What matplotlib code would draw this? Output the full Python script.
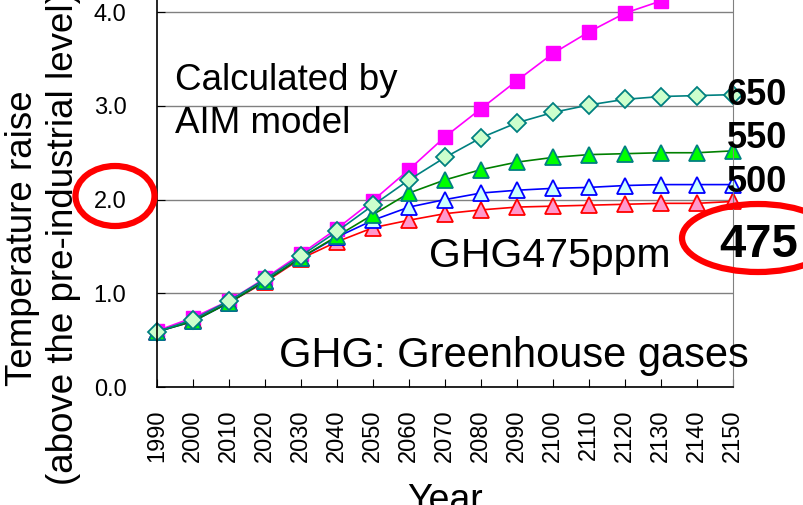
import matplotlib.pyplot as plt
from matplotlib.patches import Ellipse

plt.rcParams["font.family"] = ["Liberation Sans", "DejaVu Sans"]

years = [1990, 2000, 2010, 2020, 2030, 2040, 2050, 2060, 2070, 2080,
         2090, 2100, 2110, 2120, 2130, 2140, 2150]

# temperature rise by GHG stabilisation level
base = [0.60, 0.74, 0.92, 1.16, 1.42, 1.69, 1.99, 2.32, 2.67, 2.97,
        3.27, 3.56, 3.79, 3.99, 4.12, 4.25, 4.35]
ghg650 = [0.59, 0.72, 0.92, 1.15, 1.40, 1.66, 1.94, 2.21, 2.45, 2.66,
          2.82, 2.93, 3.01, 3.07, 3.10, 3.11, 3.12]
ghg550 = [0.59, 0.70, 0.90, 1.13, 1.38, 1.61, 1.84, 2.07, 2.21, 2.32,
          2.40, 2.45, 2.48, 2.49, 2.50, 2.50, 2.52]
ghg500 = [0.59, 0.70, 0.90, 1.13, 1.38, 1.60, 1.78, 1.92, 2.00, 2.07,
          2.10, 2.12, 2.13, 2.15, 2.16, 2.16, 2.16]
ghg475 = [0.59, 0.71, 0.90, 1.12, 1.37, 1.55, 1.70, 1.78, 1.85, 1.89,
          1.92, 1.93, 1.94, 1.95, 1.96, 1.96, 1.98]

W, H = 804, 505
fig = plt.figure(figsize=(W / 100, H / 100), dpi=100)
ax = fig.add_axes([157 / W, 118 / H, (733 - 157) / W, 1 - 118 / H])


def px(x, y):
    return x / W, (H - y) / H


ax.plot(years, base, color="#ff00ff", lw=1.2, marker="s", ms=10,
        mfc="#ff00ff", mec="#ff00ff", clip_on=True)
ax.plot(years, ghg475, color="red", lw=1.2, marker="^", ms=11,
        mfc="#ff99cc", mec="red", mew=1.3, clip_on=False)
ax.plot(years, ghg500, color="blue", lw=1.2, marker="^", ms=11,
        mfc="#ccffff", mec="blue", mew=1.3, clip_on=False)
ax.plot(years, ghg550, color="green", lw=1.2, marker="^", ms=11,
        mfc="#00ff00", mec="#008080", mew=1.3, clip_on=False)
ax.plot(years, ghg650, color="#008080", lw=1.2, marker="D", ms=9,
        mfc="#ccffcc", mec="#008080", mew=1.3, clip_on=False)

ax.set_xlim(1990, 2150)
ax.set_ylim(0, 4.13)
ax.set_xticks(years)
ax.set_xticklabels([str(y) for y in years], rotation=90)
ax.set_yticks([0, 1, 2, 3, 4])
ax.set_yticklabels(["0.0", "1.0", "2.0", "3.0", "4.0"])
ax.tick_params(axis="both", direction="in", labelsize=17, length=6)
ax.tick_params(axis="y", pad=22)
ax.tick_params(axis="x", pad=16)
ax.grid(axis="y", color="#808080", lw=1)
ax.set_axisbelow(True)
ax.spines["top"].set_visible(False)
ax.spines["right"].set_color("#808080")
ax.spines["left"].set_linewidth(1.2)
ax.spines["bottom"].set_linewidth(1.2)

ax.set_xlabel("Year", fontsize=27, labelpad=15)
fig.text(*px(43, 238), "Temperature raise\n(above the pre-industrial level)",
         rotation=90, ha="center", va="center", fontsize=26.5,
         multialignment="center", linespacing=1.2)

fig.text(*px(175, 90), "Calculated by", fontsize=26.5, ha="left", va="baseline")
fig.text(*px(175, 133), "AIM model", fontsize=26.5, ha="left", va="baseline")
fig.text(*px(429, 267), "GHG475ppm", fontsize=29.5, ha="left", va="baseline")
fig.text(*px(279, 367), "GHG: Greenhouse gases", fontsize=30, ha="left",
         va="baseline")

fig.text(*px(727, 105), "650", fontsize=26, fontweight="bold", va="baseline")
fig.text(*px(727, 148), "550", fontsize=26, fontweight="bold", va="baseline")
fig.text(*px(727, 192), "500", fontsize=26, fontweight="bold", va="baseline")
fig.text(*px(719, 257), "475", fontsize=34, fontweight="bold", va="baseline")

fig.add_artist(Ellipse(px(115, 196), 79 / W, 60 / H, transform=fig.transFigure,
                       fill=False, ec="red", lw=4.5))
fig.add_artist(Ellipse(px(758, 238), 152 / W, 68 / H, transform=fig.transFigure,
                       fill=False, ec="red", lw=4.5))

fig.savefig("out.png", dpi=100)
